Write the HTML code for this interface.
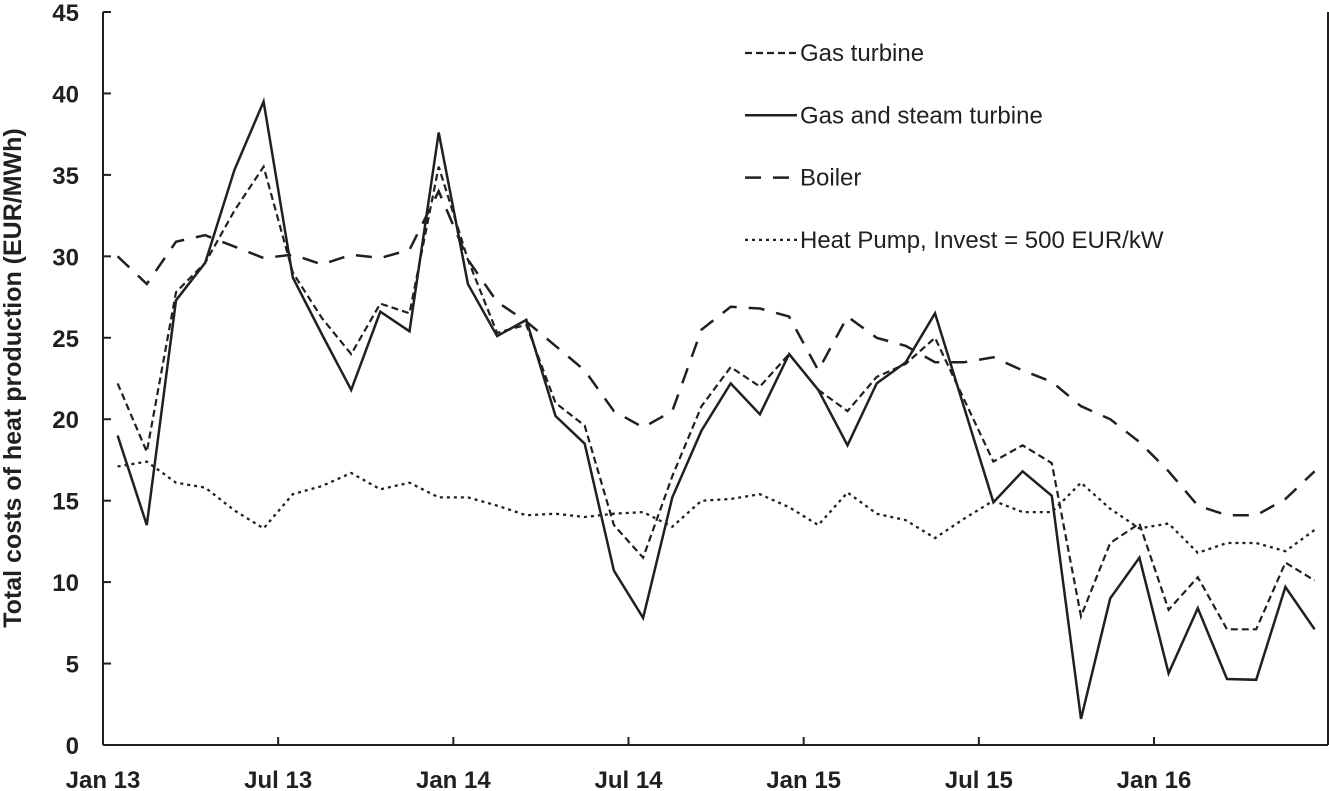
<!DOCTYPE html>
<html><head><meta charset="utf-8"><style>
body{margin:0;background:#fff}
svg{display:block;font-family:"Liberation Sans",Arial,sans-serif}
</style></head><body>
<svg id="chart" width="1329" height="791" xmlns="http://www.w3.org/2000/svg">
<g id="axes"></g>
<g id="series"></g>
<g id="legend"></g>
<text transform="translate(21,378) rotate(-90)" text-anchor="middle" font-weight="bold" font-size="25" fill="#231f20">Total costs of heat production (EUR/MWh)</text>
</svg>
<script>
const xTickLabels = ["Jan 13","Jul 13","Jan 14","Jul 14","Jan 15","Jul 15","Jan 16"];
const yTicks = [0,5,10,15,20,25,30,35,40,45];
const gasTurbine = [22.2,18.0,27.8,29.6,32.8,35.5,29.0,26.2,24.0,27.1,26.5,35.5,29.8,25.3,25.8,21.0,19.6,13.5,11.5,16.5,20.8,23.2,22.0,24.0,21.8,20.5,22.6,23.4,25.0,21.2,17.4,18.4,17.3,7.9,12.4,13.6,8.3,10.3,7.1,7.1,11.2,10.1];
const gasSteam = [19.0,13.5,27.3,29.6,35.3,39.5,28.7,25.2,21.8,26.6,25.4,37.6,28.3,25.1,26.1,20.2,18.5,10.7,7.8,15.2,19.3,22.2,20.3,24.0,21.8,18.4,22.2,23.5,26.5,20.7,14.9,16.8,15.3,1.6,9.0,11.5,4.4,8.4,4.05,4.0,9.7,7.1];
const boiler = [30.0,28.3,30.9,31.3,30.6,29.9,30.1,29.5,30.1,29.9,30.4,34.0,29.8,27.2,26.0,24.5,23.0,20.5,19.5,20.5,25.5,26.9,26.8,26.3,23.0,26.3,25.0,24.5,23.5,23.5,23.8,23.0,22.3,20.8,20.0,18.6,16.8,14.7,14.1,14.1,15.1,16.8];
const heatPump = [17.1,17.4,16.1,15.8,14.4,13.3,15.4,15.9,16.7,15.7,16.1,15.2,15.2,14.7,14.1,14.2,14.0,14.2,14.3,13.4,15.0,15.1,15.4,14.6,13.5,15.5,14.2,13.8,12.7,13.9,15.0,14.3,14.3,16.1,14.5,13.3,13.6,11.8,12.4,12.4,11.9,13.2];
const legendLabels = ["Gas turbine","Gas and steam turbine","Boiler","Heat Pump, Invest = 500 EUR/kW"];

const NS="http://www.w3.org/2000/svg";
const L=103,R=1328,T=12,B=745,monthW=(1154-103)/36;
const xs=m=>L+monthW*m;
const xi=i=>xs(i+0.5);
const ys=v=>B-(B-T)*v/45;
function mk(tag,attrs,parent){const e=document.createElementNS(NS,tag);for(const k in attrs)e.setAttribute(k,attrs[k]);parent.appendChild(e);return e;}
const axes=document.getElementById('axes');
const c="#231f20";
let a=mk('line',{x1:L,y1:T,x2:L,y2:B,stroke:c,'stroke-width':2},axes);


a=mk('line',{x1:L,y1:B,x2:R,y2:B,stroke:c,'stroke-width':2},axes);


a=mk('line',{x1:R,y1:T,x2:R,y2:B,stroke:c,'stroke-width':2},axes);


yTicks.forEach(v=>{
  const y=ys(v);
  const t=mk('line',{x1:L,y1:y,x2:L+8,y2:y,stroke:c,'stroke-width':2},axes);
  
  
  const tx=mk('text',{x:L-24,y:y+9,'text-anchor':'end','font-size':24,'font-weight':'bold',fill:c},axes);
  tx.textContent=v;
  
  
});
xTickLabels.forEach((lab,i)=>{
  const x=xs(i*6);
  if(i>0){const t=mk('line',{x1:x,y1:B,x2:x,y2:B-8,stroke:c,'stroke-width':2},axes);
  
  }
  const tx=mk('text',{x:x,y:B+43,'text-anchor':'middle','font-size':24,'font-weight':'bold',fill:c},axes);
  tx.textContent=lab;
  
  
});
const styles=[
  {data:gasTurbine,dash:'7,4',w:2.2,name:'gas-turbine-line'},
  {data:gasSteam,dash:'',w:2.5,name:'gas-steam-turbine-line'},
  {data:boiler,dash:'16,12',w:2.5,name:'boiler-line'},
  {data:heatPump,dash:'3,4',w:2.3,name:'heat-pump-line'}
];
const series=document.getElementById('series');
styles.forEach(s=>{
  const pts=s.data.map((v,i)=>xi(i).toFixed(1)+','+ys(v).toFixed(1)).join(' ');
  const p=mk('polyline',{points:pts,fill:'none',stroke:c,'stroke-width':s.w,'stroke-dasharray':s.dash,'stroke-linejoin':'miter'},series);
  
  
});
const legend=document.getElementById('legend');
legendLabels.forEach((lab,i)=>{
  const y=53+i*62.3;
  const s=styles[i];
  const ln=mk('line',{x1:745,y1:y,x2:797,y2:y,stroke:c,'stroke-width':s.w,'stroke-dasharray':s.dash},legend);
  
  
  const tx=mk('text',{x:800,y:y+8,'font-size':24,fill:c},legend);
  tx.textContent=lab;
  
  
});
</script>
</body></html>
